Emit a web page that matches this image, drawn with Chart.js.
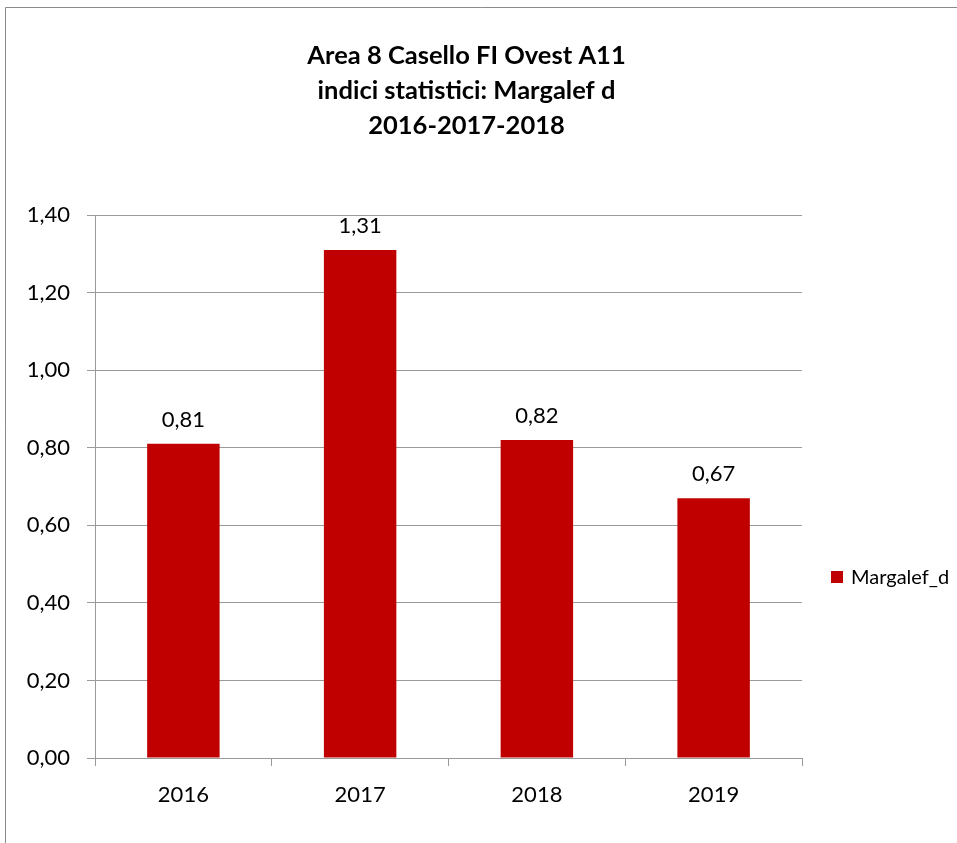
<!DOCTYPE html>
<html>

<head>
  <script src="https://cdn.jsdelivr.net/npm/chart.js@4/dist/chart.umd.min.js"></script>
  <style>
    html, body { margin: 0; padding: 0; background: #fff; }
    #wrap { position: relative; width: 957px; height: 843px; }
  </style>
</head>

<body>
  <div id="wrap">
    <canvas id="myChart" width="957" height="843"></canvas>
  </div>
  <script type="text/javascript">
    // data
    var years = ['2016', '2017', '2018', '2019'];
    var margalef = [0.81, 1.31, 0.82, 0.67];
    var seriesName = 'Margalef_d';
    var titleLines = ['Area 8 Casello FI Ovest A11', 'indici statistici: Margalef d', '2016-2017-2018'];

    var barColor = '#C00000';
    var gridColor = '#9a9a9a';
    var fontFamily = 'Lato, "Open Sans", sans-serif';

    function comma(v) {
      return v.toFixed(2).replace('.', ',');
    }

    // outer frame (left + top edge)
    var framePlugin = {
      id: 'frame',
      beforeDraw: function(chart) {
        var c = chart.ctx;
        c.save();
        c.fillStyle = '#fff';
        c.fillRect(0, 0, chart.width, chart.height);
        c.strokeStyle = '#8a8a8a';
        c.lineWidth = 1;
        c.beginPath();
        c.moveTo(5.5, chart.height);
        c.lineTo(5.5, 7.5);
        c.lineTo(chart.width, 7.5);
        c.stroke();
        c.restore();
      }
    };

    // title is centred on the whole box, not only on the plot + axis part
    var titleSpan = {
      id: 'titleSpan',
      afterLayout: function(chart) {
        var t = chart.titleBlock;
        if (t) {
          t.left = 20;
          t.right = 913;
          t.width = t.right - t.left;
        }
      }
    };

    // value labels above the bars
    var valueLabels = {
      id: 'valueLabels',
      afterDatasetsDraw: function(chart) {
        var c = chart.ctx;
        var meta = chart.getDatasetMeta(0);
        c.save();
        c.font = '22px ' + fontFamily;
        c.fillStyle = '#000';
        c.textAlign = 'center';
        c.textBaseline = 'alphabetic';
        meta.data.forEach(function(bar, i) {
          c.fillText(comma(chart.data.datasets[0].data[i]), bar.x, bar.y - 17);
        });
        c.restore();
      }
    };

    // legend on the right side
    var sideLegend = {
      id: 'sideLegend',
      afterDraw: function(chart) {
        var c = chart.ctx;
        var ds = chart.data.datasets[0];
        c.save();
        c.fillStyle = ds.backgroundColor;
        c.fillRect(831, 571, 12, 12);
        c.font = '20px ' + fontFamily;
        c.fillStyle = '#000';
        c.textAlign = 'left';
        c.textBaseline = 'middle';
        c.fillText(ds.label, 851, 578);
        c.restore();
      }
    };

    var ctx = document.getElementById('myChart').getContext('2d');
    var chart = new Chart(ctx, {
      type: 'bar',
      data: {
        labels: years,
        datasets: [{
          label: seriesName,
          data: margalef,
          backgroundColor: barColor,
          borderWidth: 0,
          barPercentage: 0.41,
          categoryPercentage: 1
        }]
      },
      options: {
        responsive: false,
        animation: false,
        events: [],
        layout: {
          padding: { left: 0, right: 155, top: 0, bottom: 0 }
        },
        plugins: {
          legend: { display: false },
          tooltip: { enabled: false },
          title: {
            display: true,
            text: titleLines,
            color: '#000',
            font: { family: fontFamily, size: 25.5, weight: 'bold', lineHeight: '35px' },
            padding: { top: 38, bottom: 72 }
          }
        },
        scales: {
          x: {
            grid: {
              display: true,
              drawOnChartArea: false,
              drawTicks: true,
              tickLength: 8,
              color: gridColor,
              offset: true
            },
            border: { display: true, color: gridColor },
            ticks: {
              color: '#000',
              font: { family: fontFamily, size: 22 },
              padding: 16
            },
            afterFit: function(scale) { scale.height = 843 - 758; }
          },
          y: {
            min: 0,
            max: 1.4,
            grid: {
              color: gridColor,
              tickLength: 8
            },
            border: { display: true, color: gridColor },
            ticks: {
              stepSize: 0.2,
              color: '#000',
              font: { family: fontFamily, size: 22 },
              padding: 17,
              callback: function(v) { return comma(v); }
            },
            afterFit: function(scale) { scale.width = 95; }
          }
        }
      },
      plugins: [framePlugin, titleSpan, valueLabels, sideLegend]
    });
  </script>
</body>

</html>
